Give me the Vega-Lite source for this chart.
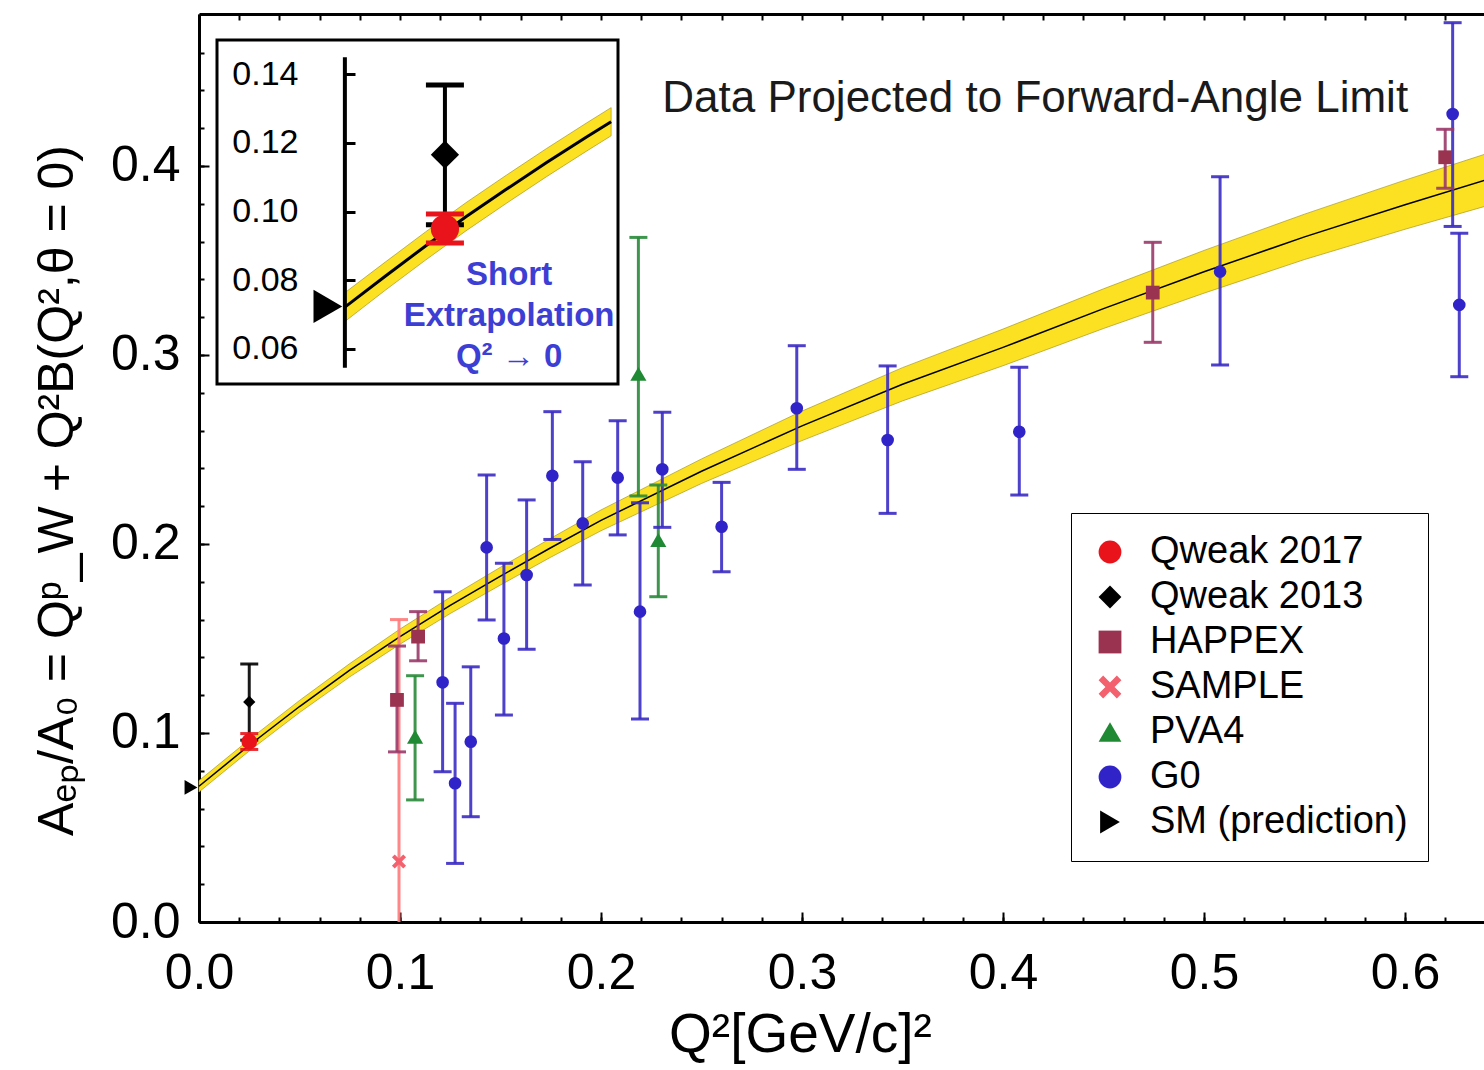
{
  "$schema": "https://vega.github.io/schema/vega-lite/v6.json",
  "width": 1285,
  "height": 908,
  "autosize": "none",
  "padding": {"left": 199, "top": 14, "right": 0, "bottom": 148},
  "background": "white",
  "config": {
    "view": {"stroke": null},
    "font": "Liberation Sans",
    "axis": {"labelFont": "Liberation Sans", "titleFont": "Liberation Sans", "labelColor": "black", "titleColor": "black", "domainColor": "black", "tickColor": "black", "grid": false, "labelFlush": false},
    "legend": {"labelFont": "Liberation Sans"}
  },
  "datasets": {
    "points": [
      {"series": "Qweak 2013", "q2": 0.0250, "y": 0.1164, "lo": 0.0962, "hi": 0.1365},
      {"series": "Qweak 2017", "q2": 0.0250, "y": 0.0955, "lo": 0.0913, "hi": 0.0997},
      {"series": "SAMPLE", "q2": 0.0995, "y": 0.0320, "lo": -0.0960, "hi": 0.1600},
      {"series": "HAPPEX", "q2": 0.0985, "y": 0.1175, "lo": 0.0900, "hi": 0.1460},
      {"series": "HAPPEX", "q2": 0.1090, "y": 0.1510, "lo": 0.1382, "hi": 0.1642},
      {"series": "HAPPEX", "q2": 0.4745, "y": 0.3330, "lo": 0.3067, "hi": 0.3596},
      {"series": "HAPPEX", "q2": 0.6200, "y": 0.4046, "lo": 0.3882, "hi": 0.4194},
      {"series": "PVA4", "q2": 0.1075, "y": 0.0980, "lo": 0.0646, "hi": 0.1303},
      {"series": "PVA4", "q2": 0.2186, "y": 0.2900, "lo": 0.2254, "hi": 0.3622},
      {"series": "PVA4", "q2": 0.2285, "y": 0.2021, "lo": 0.1721, "hi": 0.2312},
      {"series": "G0", "q2": 0.1212, "y": 0.1268, "lo": 0.0795, "hi": 0.1747},
      {"series": "G0", "q2": 0.1274, "y": 0.0734, "lo": 0.0310, "hi": 0.1157},
      {"series": "G0", "q2": 0.1352, "y": 0.0954, "lo": 0.0557, "hi": 0.1350},
      {"series": "G0", "q2": 0.1431, "y": 0.1982, "lo": 0.1598, "hi": 0.2365},
      {"series": "G0", "q2": 0.1517, "y": 0.1500, "lo": 0.1095, "hi": 0.1898},
      {"series": "G0", "q2": 0.1630, "y": 0.1836, "lo": 0.1443, "hi": 0.2233},
      {"series": "G0", "q2": 0.1758, "y": 0.2361, "lo": 0.2024, "hi": 0.2700},
      {"series": "G0", "q2": 0.1909, "y": 0.2109, "lo": 0.1783, "hi": 0.2435},
      {"series": "G0", "q2": 0.2083, "y": 0.2351, "lo": 0.2048, "hi": 0.2652},
      {"series": "G0", "q2": 0.2194, "y": 0.1642, "lo": 0.1074, "hi": 0.2218},
      {"series": "G0", "q2": 0.2305, "y": 0.2395, "lo": 0.2088, "hi": 0.2697},
      {"series": "G0", "q2": 0.2600, "y": 0.2091, "lo": 0.1853, "hi": 0.2326},
      {"series": "G0", "q2": 0.2974, "y": 0.2718, "lo": 0.2395, "hi": 0.3049},
      {"series": "G0", "q2": 0.3426, "y": 0.2550, "lo": 0.2162, "hi": 0.2942},
      {"series": "G0", "q2": 0.4081, "y": 0.2594, "lo": 0.2259, "hi": 0.2935},
      {"series": "G0", "q2": 0.5080, "y": 0.3441, "lo": 0.2947, "hi": 0.3943},
      {"series": "G0", "q2": 0.6237, "y": 0.4275, "lo": 0.3680, "hi": 0.4758},
      {"series": "G0", "q2": 0.6270, "y": 0.3265, "lo": 0.2885, "hi": 0.3644},
      {"series": "SM (prediction)", "q2": 0.0, "y": 0.0712, "lo": null, "hi": null}
    ],
    "band": [
      {"q2": 0.000, "fit": 0.0718, "lo": 0.0688, "hi": 0.0748},
      {"q2": 0.025, "fit": 0.0935, "lo": 0.0905, "hi": 0.0965},
      {"q2": 0.050, "fit": 0.1140, "lo": 0.1108, "hi": 0.1172},
      {"q2": 0.075, "fit": 0.1332, "lo": 0.1297, "hi": 0.1367},
      {"q2": 0.100, "fit": 0.1510, "lo": 0.1470, "hi": 0.1550},
      {"q2": 0.125, "fit": 0.1675, "lo": 0.1632, "hi": 0.1718},
      {"q2": 0.150, "fit": 0.1830, "lo": 0.1783, "hi": 0.1877},
      {"q2": 0.175, "fit": 0.1980, "lo": 0.1930, "hi": 0.2030},
      {"q2": 0.200, "fit": 0.2125, "lo": 0.2070, "hi": 0.2180},
      {"q2": 0.250, "fit": 0.2385, "lo": 0.2320, "hi": 0.2450},
      {"q2": 0.300, "fit": 0.2625, "lo": 0.2547, "hi": 0.2703},
      {"q2": 0.350, "fit": 0.2845, "lo": 0.2757, "hi": 0.2933},
      {"q2": 0.400, "fit": 0.3040, "lo": 0.2943, "hi": 0.3137},
      {"q2": 0.450, "fit": 0.3245, "lo": 0.3140, "hi": 0.3350},
      {"q2": 0.500, "fit": 0.3440, "lo": 0.3327, "hi": 0.3553},
      {"q2": 0.550, "fit": 0.3625, "lo": 0.3505, "hi": 0.3745},
      {"q2": 0.600, "fit": 0.3795, "lo": 0.3665, "hi": 0.3925},
      {"q2": 0.640, "fit": 0.3925, "lo": 0.3787, "hi": 0.4063}
    ],
    "insetband": [
      {"q2": 0.000, "fit": 0.0722, "lo": 0.0680, "hi": 0.0764},
      {"q2": 0.010, "fit": 0.0812, "lo": 0.0771, "hi": 0.0853},
      {"q2": 0.020, "fit": 0.0900, "lo": 0.0859, "hi": 0.0941},
      {"q2": 0.030, "fit": 0.0985, "lo": 0.0944, "hi": 0.1026},
      {"q2": 0.040, "fit": 0.1065, "lo": 0.1024, "hi": 0.1106},
      {"q2": 0.050, "fit": 0.1143, "lo": 0.1102, "hi": 0.1184},
      {"q2": 0.060, "fit": 0.1218, "lo": 0.1177, "hi": 0.1259},
      {"q2": 0.066, "fit": 0.1262, "lo": 0.1221, "hi": 0.1303}
    ],
    "insetpts": [
      {"series": "Qweak 2013", "q2": 0.0248, "y": 0.1166, "lo": 0.0962, "hi": 0.1369},
      {"series": "Qweak 2017", "q2": 0.0248, "y": 0.0950, "lo": 0.0909, "hi": 0.0993},
      {"series": "SM (prediction)", "q2": 0.0, "y": 0.0724, "lo": null, "hi": null}
    ],
    "insetbox": [{"x1": -0.0317, "x2": 0.0677, "y1": 0.0498, "y2": 0.1500}],
    "insetaxis": [{"q2": 0.0, "lo": 0.0545, "hi": 0.1450}],
    "insettext": [{"q2": 0.0407, "y": 0.0816, "label": "Short\nExtrapolation\nQ² → 0"}],
    "maintext": [{"q2": 0.416, "y": 0.4354, "label": "Data Projected to Forward-Angle Limit"}]
  },
  "layer": [
    {
      "data": {"name": "band"},
      "mark": {"type": "area", "fill": "#fbe122", "stroke": "#a89a20", "strokeWidth": 1, "strokeOpacity": 0.7},
      "encoding": {
        "x": {"field": "q2", "type": "quantitative", "scale": {"domain": [0, 0.6393], "nice": false, "zero": false},
          "axis": {"orient": "bottom", "values": [0, 0.1, 0.2, 0.3, 0.4, 0.5, 0.6], "format": ".1f", "labelFontSize": 50, "labelPadding": 36, "tickSize": -10, "tickWidth": 2, "domainWidth": 3, "title": "Q²[GeV/c]²", "titleFontSize": 55, "titleFontWeight": "normal", "titlePadding": 10, "titleX": 601}},
        "y": {"field": "lo", "type": "quantitative", "scale": {"domain": [0, 0.4804], "nice": false, "zero": false},
          "axis": {"orient": "left", "values": [0, 0.1, 0.2, 0.3, 0.4], "format": ".1f", "labelFontSize": 50, "labelPadding": 29, "tickSize": -10, "tickWidth": 2, "domainWidth": 3, "title": "Aₑₚ/A₀ = Qᵖ_W + Q²B(Q²,θ = 0)", "titleFontSize": 50, "titleFontWeight": "normal", "titlePadding": 28, "titleY": 476}},
        "y2": {"field": "hi"}
      }
    },
    {
      "data": {"name": "band"},
      "mark": {"type": "line", "color": "black", "strokeWidth": 1.5},
      "encoding": {
        "x": {"field": "q2", "type": "quantitative", "scale": {"domain": [0, 0.6393], "nice": false, "zero": false},
          "axis": {"orient": "top", "values": [0,0.02,0.04,0.06,0.08,0.1,0.12,0.14,0.16,0.18,0.2,0.22,0.24,0.26,0.28,0.3,0.32,0.34,0.36,0.38,0.4,0.42,0.44,0.46,0.48,0.5,0.52,0.54,0.56,0.58,0.6,0.62], "labels": false, "tickSize": -6, "tickWidth": 2, "domainWidth": 3, "title": null}},
        "y": {"field": "fit", "type": "quantitative", "scale": {"domain": [0, 0.4804], "nice": false, "zero": false},
          "axis": {"orient": "left", "values": [0,0.02,0.04,0.06,0.08,0.1,0.12,0.14,0.16,0.18,0.2,0.22,0.24,0.26,0.28,0.3,0.32,0.34,0.36,0.38,0.4,0.42,0.44,0.46], "labels": false, "domain": false, "tickSize": -5, "tickWidth": 2, "title": null}}
      }
    },
    {
      "data": {"name": "points"},
      "transform": [{"filter": "datum.lo != null"}],
      "mark": {"type": "rule", "strokeWidth": 3, "clip": true, "opacity": 0.9},
      "encoding": {
        "x": {"field": "q2", "type": "quantitative", "scale": {"domain": [0, 0.6393], "nice": false, "zero": false},
          "axis": {"orient": "bottom", "values": [0,0.02,0.04,0.06,0.08,0.1,0.12,0.14,0.16,0.18,0.2,0.22,0.24,0.26,0.28,0.3,0.32,0.34,0.36,0.38,0.4,0.42,0.44,0.46,0.48,0.5,0.52,0.54,0.56,0.58,0.6,0.62], "labels": false, "domain": false, "tickSize": -5, "tickWidth": 2, "title": null}},
        "y": {"field": "lo", "type": "quantitative", "scale": {"domain": [0, 0.4804], "nice": false, "zero": false}, "axis": null},
        "y2": {"field": "hi"},
        "stroke": {"field": "series", "type": "nominal", "legend": null,
          "scale": {"domain": ["G0", "HAPPEX", "SAMPLE", "PVA4", "Qweak 2013", "Qweak 2017", "SM (prediction)"], "range": ["#3b2cc4", "#9b3a6a", "#ff7a7a", "#2a8a3a", "#000000", "#e8131b", "#000000"]}}
      }
    },
    {
      "data": {"name": "points"},
      "transform": [{"filter": "datum.lo != null"}],
      "mark": {"type": "point", "shape": "stroke", "size": 324, "strokeWidth": 3, "clip": true, "opacity": 0.9},
      "encoding": {
        "x": {"field": "q2", "type": "quantitative", "scale": {"domain": [0, 0.6393], "nice": false, "zero": false}, "axis": null},
        "y": {"field": "lo", "type": "quantitative", "scale": {"domain": [0, 0.4804], "nice": false, "zero": false}, "axis": null},
        "stroke": {"field": "series", "type": "nominal", "legend": null}
      }
    },
    {
      "data": {"name": "points"},
      "transform": [{"filter": "datum.lo != null"}],
      "mark": {"type": "point", "shape": "stroke", "size": 324, "strokeWidth": 3, "clip": true, "opacity": 0.9},
      "encoding": {
        "x": {"field": "q2", "type": "quantitative", "scale": {"domain": [0, 0.6393], "nice": false, "zero": false}, "axis": null},
        "y": {"field": "hi", "type": "quantitative", "scale": {"domain": [0, 0.4804], "nice": false, "zero": false}, "axis": null},
        "stroke": {"field": "series", "type": "nominal", "legend": null}
      }
    },
    {
      "data": {"name": "points"},
      "transform": [{"filter": "datum.series != 'SM (prediction)'"}],
      "mark": {"type": "point", "filled": true, "opacity": 1},
      "encoding": {
        "x": {"field": "q2", "type": "quantitative", "scale": {"domain": [0, 0.6393], "nice": false, "zero": false}, "axis": null},
        "y": {"field": "y", "type": "quantitative", "scale": {"domain": [0, 0.4804], "nice": false, "zero": false}, "axis": null},
        "color": {"field": "series", "type": "nominal",
          "scale": {"domain": ["Qweak 2017", "Qweak 2013", "HAPPEX", "SAMPLE", "PVA4", "G0", "SM (prediction)"], "range": ["#e8131b", "#000000", "#9a3350", "#f3606e", "#1f8a33", "#3024c8", "#000000"]},
          "legend": {"orient": "none", "legendX": 872, "legendY": 499, "title": null, "labelFontSize": 38, "labelLimit": 500, "symbolSize": 520, "labelOffset": 21, "rowPadding": 7, "padding": 20, "fillColor": "white", "strokeColor": "black",
            "encode": {"labels": {"fill": {"condition": {"test": "datum.label === 'Qweak 2017'", "value": "#e8131b"}, "value": "black"}, "fontWeight": {"condition": {"test": "datum.label === 'Qweak 2017'", "value": "bold"}, "value": "normal"}, "fontSize": {"condition": {"test": "datum.label === 'Qweak 2017'", "value": 44}, "value": 38}}}}},
        "shape": {"field": "series", "type": "nominal",
          "scale": {"domain": ["Qweak 2017", "Qweak 2013", "HAPPEX", "SAMPLE", "PVA4", "G0", "SM (prediction)"], "range": ["circle", "diamond", "square", "M-1,-0.6L-0.6,-1L0,-0.4L0.6,-1L1,-0.6L0.4,0L1,0.6L0.6,1L0,0.4L-0.6,1L-1,0.6L-0.4,0Z", "triangle-up", "circle", "triangle-right"]},
          "legend": {"orient": "none", "legendX": 872, "legendY": 499, "title": null, "labelFontSize": 38, "labelLimit": 500, "symbolSize": 520, "labelOffset": 21, "rowPadding": 7, "padding": 20, "fillColor": "white", "strokeColor": "black",
            "encode": {"labels": {"fill": {"condition": {"test": "datum.label === 'Qweak 2017'", "value": "#e8131b"}, "value": "black"}, "fontWeight": {"condition": {"test": "datum.label === 'Qweak 2017'", "value": "bold"}, "value": "normal"}, "fontSize": {"condition": {"test": "datum.label === 'Qweak 2017'", "value": 44}, "value": 38}}}}},
        "size": {"field": "series", "type": "nominal", "legend": null,
          "scale": {"type": "ordinal", "domain": ["PVA4", "G0", "HAPPEX", "SAMPLE", "Qweak 2013", "Qweak 2017", "SM (prediction)"], "range": [260, 160, 190, 200, 150, 250, 220]}}
      }
    },
    {
      "data": {"name": "points"},
      "transform": [{"filter": "datum.series == 'SM (prediction)'"}],
      "mark": {"type": "point", "shape": "triangle-right", "filled": true, "color": "black", "size": 220, "xOffset": -8, "opacity": 1},
      "encoding": {
        "x": {"field": "q2", "type": "quantitative", "scale": {"domain": [0, 0.6393], "nice": false, "zero": false}, "axis": null},
        "y": {"field": "y", "type": "quantitative", "scale": {"domain": [0, 0.4804], "nice": false, "zero": false}, "axis": null}
      }
    },
    {
      "data": {"name": "maintext"},
      "mark": {"type": "text", "fontSize": 44, "color": "#1a1a1a", "align": "center", "baseline": "middle"},
      "encoding": {
        "x": {"field": "q2", "type": "quantitative", "scale": {"domain": [0, 0.6393], "nice": false, "zero": false}, "axis": null},
        "y": {"field": "y", "type": "quantitative", "scale": {"domain": [0, 0.4804], "nice": false, "zero": false}, "axis": null},
        "text": {"field": "label"}
      }
    },
    {
      "resolve": {"axis": {"x": "independent", "y": "independent"}},
      "layer": [
        {
          "data": {"name": "insetbox"},
          "mark": {"type": "rect", "fill": "white", "stroke": "black", "strokeWidth": 3},
          "encoding": {
            "x": {"field": "x1", "type": "quantitative", "scale": {"domain": [-0.0317, 0.0677], "range": [18, 419], "nice": false, "zero": false}, "axis": null},
            "x2": {"field": "x2"},
            "y": {"field": "y1", "type": "quantitative", "scale": {"domain": [0.0498, 0.15], "range": [370, 26], "nice": false, "zero": false}, "axis": null},
            "y2": {"field": "y2"}
          }
        },
        {
          "data": {"name": "insetband"},
          "mark": {"type": "area", "fill": "#fbe122", "stroke": "#a89a20", "strokeWidth": 1, "strokeOpacity": 0.7},
          "encoding": {
            "x": {"field": "q2", "type": "quantitative", "scale": {"domain": [-0.0317, 0.0677], "range": [18, 419], "nice": false, "zero": false}, "axis": null},
            "y": {"field": "lo", "type": "quantitative", "scale": {"domain": [0.0498, 0.15], "range": [370, 26], "nice": false, "zero": false}, "axis": null},
            "y2": {"field": "hi"}
          }
        },
        {
          "data": {"name": "insetband"},
          "mark": {"type": "line", "color": "black", "strokeWidth": 3},
          "encoding": {
            "x": {"field": "q2", "type": "quantitative", "axis": null},
            "y": {"field": "fit", "type": "quantitative", "axis": null}
          }
        },
        {
          "data": {"name": "insetaxis"},
          "mark": {"type": "rule", "color": "black", "strokeWidth": 4},
          "encoding": {
            "x": {"field": "q2", "type": "quantitative", "axis": null},
            "y": {"field": "lo", "type": "quantitative",
              "axis": {"orient": "left", "offset": -146, "zindex": 2, "values": [0.06, 0.08, 0.10, 0.12, 0.14], "format": ".2f", "domain": false, "tickSize": -10, "tickWidth": 3, "labelFontSize": 34, "labelPadding": 57, "title": null}},
            "y2": {"field": "hi"}
          }
        },
        {
          "data": {"name": "insetpts"},
          "transform": [{"filter": "datum.lo != null"}],
          "mark": {"type": "rule", "strokeWidth": 4},
          "encoding": {
            "x": {"field": "q2", "type": "quantitative", "axis": null},
            "y": {"field": "lo", "type": "quantitative", "axis": null},
            "y2": {"field": "hi"},
            "stroke": {"field": "series", "type": "nominal", "legend": null}
          }
        },
        {
          "data": {"name": "insetpts"},
          "transform": [{"filter": "datum.lo != null"}],
          "mark": {"type": "point", "shape": "stroke", "size": 1444, "strokeWidth": 5, "opacity": 1},
          "encoding": {
            "x": {"field": "q2", "type": "quantitative", "axis": null},
            "y": {"field": "lo", "type": "quantitative", "axis": null},
            "stroke": {"field": "series", "type": "nominal", "legend": null}
          }
        },
        {
          "data": {"name": "insetpts"},
          "transform": [{"filter": "datum.lo != null"}],
          "mark": {"type": "point", "shape": "stroke", "size": 1444, "strokeWidth": 5, "opacity": 1},
          "encoding": {
            "x": {"field": "q2", "type": "quantitative", "axis": null},
            "y": {"field": "hi", "type": "quantitative", "axis": null},
            "stroke": {"field": "series", "type": "nominal", "legend": null}
          }
        },
        {
          "data": {"name": "insetpts"},
          "transform": [{"filter": "datum.series == 'Qweak 2013'"}],
          "mark": {"type": "point", "shape": "diamond", "filled": true, "color": "black", "size": 800, "opacity": 1},
          "encoding": {
            "x": {"field": "q2", "type": "quantitative", "axis": null},
            "y": {"field": "y", "type": "quantitative", "axis": null}
          }
        },
        {
          "data": {"name": "insetpts"},
          "transform": [{"filter": "datum.series == 'Qweak 2017'"}],
          "mark": {"type": "point", "shape": "circle", "filled": true, "color": "#e8131b", "size": 800, "opacity": 1},
          "encoding": {
            "x": {"field": "q2", "type": "quantitative", "axis": null},
            "y": {"field": "y", "type": "quantitative", "axis": null}
          }
        },
        {
          "data": {"name": "insetpts"},
          "transform": [{"filter": "datum.series == 'SM (prediction)'"}],
          "mark": {"type": "point", "shape": "triangle-right", "filled": true, "color": "black", "size": 1100, "xOffset": -17, "opacity": 1},
          "encoding": {
            "x": {"field": "q2", "type": "quantitative", "axis": null},
            "y": {"field": "y", "type": "quantitative", "axis": null}
          }
        },
        {
          "data": {"name": "insettext"},
          "mark": {"type": "text", "fontSize": 33, "fontWeight": "bold", "color": "#3c3ed4", "align": "center", "baseline": "middle", "lineBreak": "\n", "lineHeight": 41},
          "encoding": {
            "x": {"field": "q2", "type": "quantitative", "axis": null},
            "y": {"field": "y", "type": "quantitative", "axis": null},
            "text": {"field": "label"}
          }
        }
      ]
    }
  ],
  "resolve": {"scale": {"x": "independent", "y": "independent"}, "axis": {"x": "independent", "y": "independent"}}
}
